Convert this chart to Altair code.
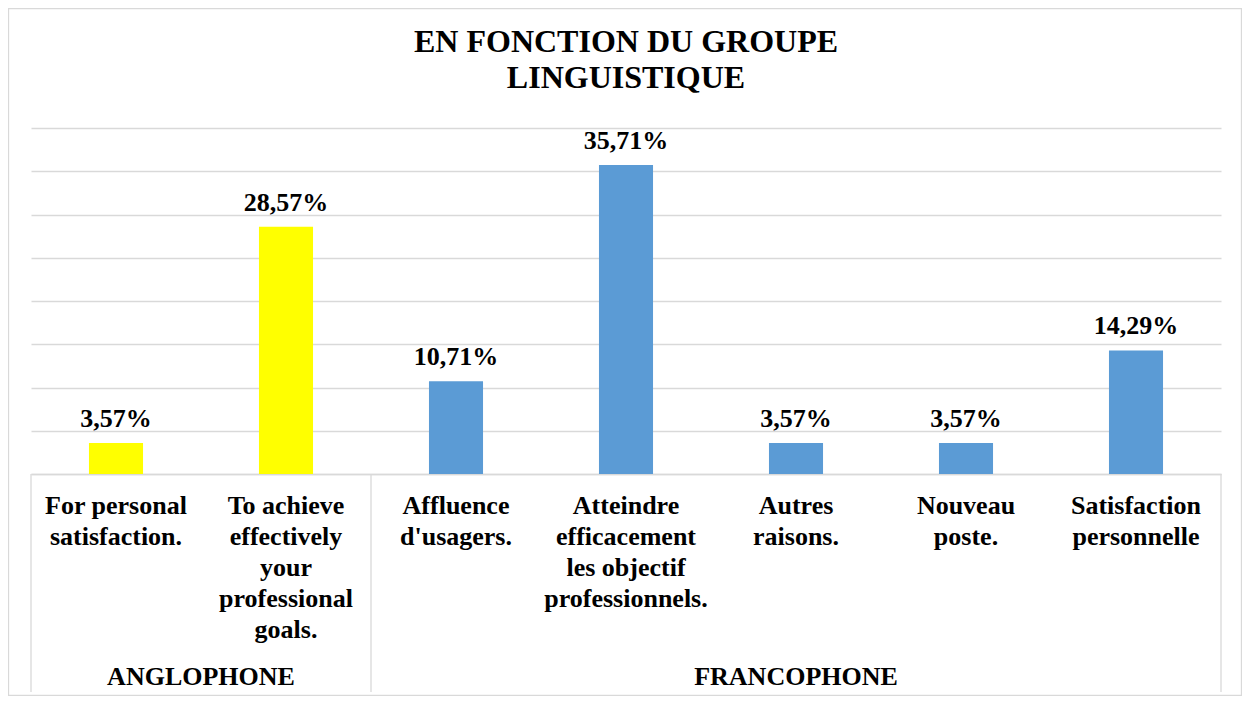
import altair as alt
import pandas as pd

categories = [
    "For personal|satisfaction.",
    "To achieve|effectively|your|professional|goals.",
    "Affluence|d'usagers.",
    "Atteindre|efficacement|les objectif|professionnels.",
    "Autres|raisons.",
    "Nouveau|poste.",
    "Satisfaction|personnelle",
]
groups = ["ANGLOPHONE", "ANGLOPHONE", "FRANCOPHONE", "FRANCOPHONE",
          "FRANCOPHONE", "FRANCOPHONE", "FRANCOPHONE"]
values = [3.57, 28.57, 10.71, 35.71, 3.57, 3.57, 14.29]

group_names = ["ANGLOPHONE", "FRANCOPHONE"]
group_start = [0, 2]
group_end = [2, 7]
group_colors = ["#FFFF00", "#5B9BD5"]
boundaries = [0, 2, 7]
grid_values = [0, 5, 10, 15, 20, 25, 30, 35, 40]

FONT = "Liberation Serif"
GRID = "#d9d9d9"

df = pd.DataFrame({"category": categories, "group": groups, "value": values})
gdf = pd.DataFrame({"name": group_names, "start": group_start, "end": group_end})
gdf["mid"] = (gdf["start"] + gdf["end"]) / 2
bdf = pd.DataFrame({"b": boundaries})

W, H = 1190, 346

xband = alt.X(
    "category:N", sort=categories,
    scale=alt.Scale(paddingInner=0.682, paddingOuter=0.341),
    axis=alt.Axis(
        title=None, labelExpr="split(datum.label, '|')", labelAngle=0,
        labelFont=FONT, labelFontSize=26, labelFontWeight="bold",
        labelColor="black", labelLineHeight=31, labelPadding=18,
        labelBaseline="top", labelLimit=400, labelOverlap=False,
        ticks=False, domain=True, domainColor=GRID, domainWidth=1.3,
        grid=False,
    ),
)
yval = alt.Y(
    "value:Q", scale=alt.Scale(domain=[0, 40]),
    axis=alt.Axis(values=grid_values, labels=False, ticks=False, domain=False,
                  title=None, grid=True, gridColor=GRID, gridWidth=1.3),
)

base = alt.Chart(df)
bars = base.mark_bar().encode(
    x=xband, y=yval,
    color=alt.Color("group:N", scale=alt.Scale(domain=group_names, range=group_colors), legend=None),
)
labels = base.transform_calculate(
    lab="replace(format(datum.value, '.2f'), '.', ',') + '%'"
).mark_text(
    font=FONT, fontSize=26, fontWeight="bold", color="black",
    baseline="alphabetic", dy=-16,
).encode(x=alt.X("category:N", sort=categories), y=alt.Y("value:Q"), text="lab:N")

bar_layer = alt.layer(bars, labels)

xq = alt.Scale(domain=[0, 7])
group_text = alt.Chart(gdf).mark_text(
    font=FONT, fontSize=26, fontWeight="bold", color="black", baseline="alphabetic"
).encode(
    x=alt.X("mid:Q", scale=xq, axis=None),
    y=alt.value(557),
    text="name:N",
)
seps = alt.Chart(bdf).mark_rule(color=GRID, strokeWidth=1.3).encode(
    x=alt.X("b:Q", scale=xq, axis=None),
    y=alt.value(346), y2=alt.value(564),
)
border = alt.Chart(pd.DataFrame({"a": [0]})).mark_rect(
    fill=None, stroke=GRID, strokeWidth=1.3
).encode(
    x=alt.value(-22.5), x2=alt.value(1210.5), y=alt.value(-119.5), y2=alt.value(567.5)
)

chart = alt.layer(bar_layer, group_text, seps, border).resolve_scale(
    x="independent"
).properties(
    width=W, height=H,
    autosize=alt.AutoSizeParams(type="none"),
    padding={"left": 23, "top": 120, "right": 21, "bottom": 222},
    title=alt.Title(
        text=["EN FONCTION DU GROUPE", "LINGUISTIQUE"],
        font=FONT, fontSize=32, fontWeight="bold", color="black",
        anchor="middle", lineHeight=36, offset=-87,
    ),
    background="white",
).configure_view(stroke=None)

chart.save("out.html", embed_options={"renderer": "svg", "actions": False})
